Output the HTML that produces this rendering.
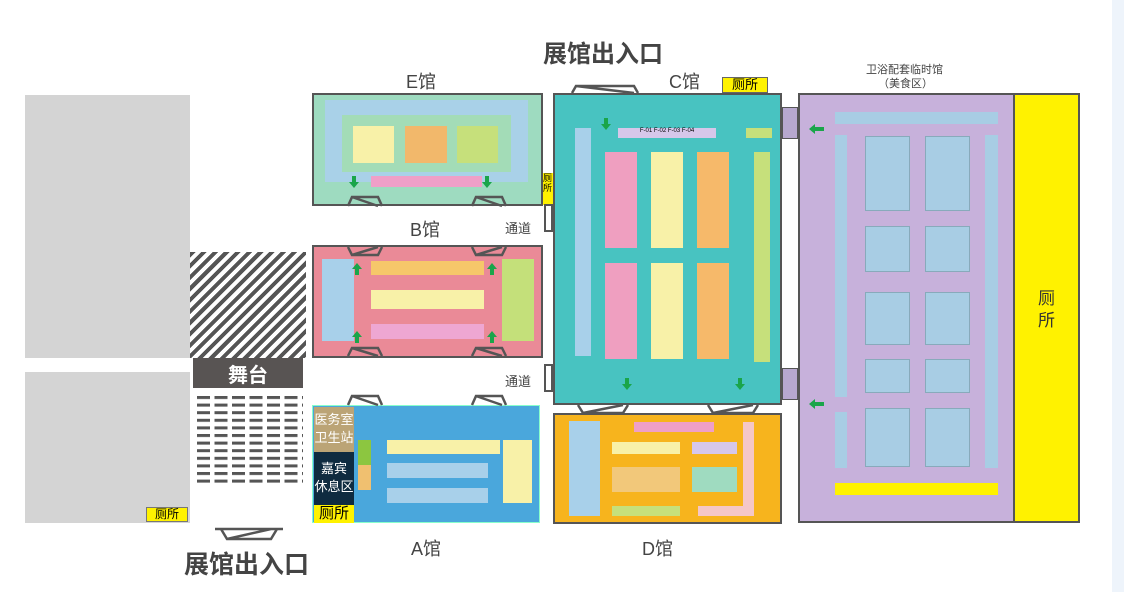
<!DOCTYPE html>
<html><head><meta charset="utf-8"><style>
*{margin:0;padding:0;box-sizing:border-box}
body{width:1124px;height:592px;background:#fff;position:relative;overflow:hidden;font-family:"Liberation Sans","Noto Sans CJK SC",sans-serif}
div,svg{position:absolute}
.b{border:2px solid #555}
.t{color:#444;white-space:nowrap}
</style></head><body>
<div style="left:1112px;top:0;width:12px;height:592px;background:#eef4fb"></div>

<div style="left:25px;top:95px;width:165px;height:263px;background:#d4d4d4"></div>
<div style="left:25px;top:372px;width:165px;height:151px;background:#d4d4d4"></div>
<div style="left:190px;top:252px;width:116px;height:106px;background:repeating-linear-gradient(135deg,#555 0 4px,#fff 4px 8px)"></div>
<div style="left:193px;top:358px;width:110px;height:30px;background:#585453;color:#fff;font-size:20px;font-weight:bold;display:flex;align-items:center;justify-content:center">舞台</div>
<svg style="left:197px;top:396px" width="108" height="92">
<defs><pattern id="d" width="17.5" height="7.6" patternUnits="userSpaceOnUse"><rect width="13" height="3" fill="#555"/></pattern></defs>
<rect width="106" height="91" fill="url(#d)"/></svg>
<div style="left:146px;top:507px;width:42px;height:15px;background:#fff200;border:1px solid #777;font-size:12px;line-height:13px;text-align:center">厕所</div>
<svg style="left:213px;top:526px" width="72" height="16"><path d="M2 3 H70 M8 3 L14 13 H58 L64 3 M14 13 L58 3" stroke="#555" stroke-width="2.5" fill="none"/></svg>
<div class="t" style="left:184px;top:545px;font-size:25px;font-weight:bold">展馆出入口</div>
<div class="t" style="left:543px;top:34px;font-size:24px;font-weight:bold">展馆出入口</div>

<!-- E hall -->
<div class="t" style="left:406px;top:68px;font-size:18px">E馆</div>
<div class="b" style="left:312px;top:93px;width:231px;height:113px;background:#9edbc0"></div>
<div style="left:325px;top:100px;width:203px;height:82px;background:#a9d1e8"></div>
<div style="left:342px;top:115px;width:169px;height:57px;background:#a3dcb7"></div>
<div style="left:353px;top:126px;width:41px;height:37px;background:#f8f1a8"></div>
<div style="left:405px;top:126px;width:42px;height:37px;background:#f2b86b"></div>
<div style="left:457px;top:126px;width:41px;height:37px;background:#c6e07b"></div>
<div style="left:371px;top:176px;width:111px;height:11px;background:#ef9fc8"></div>
<div style="left:543px;top:173px;width:10px;height:32px;background:#fff200;font-size:9px;line-height:10px">厕所</div>

<!-- B hall -->
<div class="t" style="left:410px;top:216px;font-size:18px">B馆</div>
<div class="t" style="left:505px;top:218px;font-size:13px">通道</div>
<div class="t" style="left:505px;top:371px;font-size:13px">通道</div>
<div class="b" style="left:312px;top:245px;width:231px;height:113px;background:#ea8a97"></div>
<div style="left:322px;top:259px;width:32px;height:82px;background:#a8d0ea"></div>
<div style="left:502px;top:259px;width:32px;height:82px;background:#c4e07a"></div>
<div style="left:371px;top:261px;width:113px;height:14px;background:#f6c76a"></div>
<div style="left:371px;top:290px;width:113px;height:19px;background:#f8f1a8"></div>
<div style="left:371px;top:324px;width:113px;height:15px;background:#eea7d2"></div>

<!-- A hall -->
<div style="left:312px;top:405px;width:228px;height:118px;background:#4aa7dc;border:1px solid #8fc"></div>
<div style="left:314px;top:407px;width:40px;height:45px;background:#bba476;color:#fff;font-size:13px;line-height:18px;text-align:center;padding-top:4px;white-space:nowrap;overflow:hidden">医务室<br>卫生站</div>
<div style="left:314px;top:452px;width:40px;height:53px;background:#0f2b40;color:#fff;font-size:13px;line-height:18px;text-align:center;padding-top:8px;white-space:nowrap;overflow:hidden">嘉宾<br>休息区</div>
<div style="left:314px;top:505px;width:40px;height:18px;background:#fff200;font-size:15px;line-height:18px;text-align:center;white-space:nowrap">厕所</div>
<div style="left:358px;top:440px;width:13px;height:25px;background:#8cc640"></div>
<div style="left:358px;top:465px;width:13px;height:25px;background:#f0c070"></div>
<div style="left:387px;top:440px;width:113px;height:14px;background:#f8f1a8"></div>
<div style="left:387px;top:463px;width:101px;height:15px;background:#a8d0ea"></div>
<div style="left:387px;top:488px;width:101px;height:15px;background:#a8d0ea"></div>
<div style="left:503px;top:440px;width:29px;height:63px;background:#f8f1a8"></div>
<div class="t" style="left:411px;top:535px;font-size:18px">A馆</div>

<!-- C hall -->
<div class="t" style="left:669px;top:68px;font-size:18px">C馆</div>
<div style="left:722px;top:77px;width:46px;height:16px;background:#fff200;border:1px solid #666;font-size:13px;line-height:14px;text-align:center">厕所</div>
<div class="b" style="left:553px;top:93px;width:229px;height:312px;background:#48c3c1"></div>
<div style="left:618px;top:128px;width:98px;height:10px;background:#d6c7ea;font-size:6px;text-align:center">F-01 F-02 F-03 F-04</div>
<div style="left:746px;top:128px;width:26px;height:10px;background:#c6e07b"></div>
<div style="left:575px;top:128px;width:16px;height:228px;background:#a8d0ea"></div>
<div style="left:605px;top:152px;width:32px;height:96px;background:#ef9fc0"></div>
<div style="left:605px;top:263px;width:32px;height:96px;background:#ef9fc0"></div>
<div style="left:651px;top:152px;width:32px;height:96px;background:#f8f1a8"></div>
<div style="left:651px;top:263px;width:32px;height:96px;background:#f8f1a8"></div>
<div style="left:697px;top:152px;width:32px;height:96px;background:#f6b96a"></div>
<div style="left:697px;top:263px;width:32px;height:96px;background:#f6b96a"></div>
<div style="left:754px;top:152px;width:16px;height:210px;background:#c6e07b"></div>
<div style="left:782px;top:107px;width:16px;height:32px;background:#b7a8cf;border:1px solid #555"></div>
<div style="left:782px;top:368px;width:16px;height:32px;background:#b7a8cf;border:1px solid #555"></div>
<div style="left:544px;top:364px;width:9px;height:28px;border:2px solid #555;background:#fff"></div>
<div style="left:544px;top:204px;width:9px;height:28px;border:2px solid #555;background:#fff"></div>

<!-- D hall -->
<div class="b" style="left:553px;top:413px;width:229px;height:111px;background:#f7b41d"></div>
<div style="left:569px;top:421px;width:31px;height:95px;background:#a8d0ea"></div>
<div style="left:634px;top:422px;width:80px;height:10px;background:#ef9fc8"></div>
<div style="left:612px;top:442px;width:68px;height:12px;background:#f8f1a8"></div>
<div style="left:612px;top:467px;width:68px;height:25px;background:#f2c87a"></div>
<div style="left:612px;top:506px;width:68px;height:10px;background:#c6e07b"></div>
<div style="left:692px;top:442px;width:45px;height:12px;background:#d6c7ea"></div>
<div style="left:692px;top:467px;width:45px;height:25px;background:#9fdbc0"></div>
<div style="left:743px;top:422px;width:11px;height:94px;background:#f5c7c7"></div>
<div style="left:698px;top:506px;width:50px;height:10px;background:#f5c7c7"></div>
<div class="t" style="left:642px;top:535px;font-size:18px">D馆</div>

<!-- gates & arrows -->
<svg style="left:0;top:0" width="1124" height="592">
<g stroke="#555" stroke-width="2.5" fill="none">
<path d="M348 206 L352 197 H378 L382 206 M352 197 L378 206"/>
<path d="M472 206 L476 197 H502 L506 206 M476 197 L502 206"/>
<path d="M348 247 L352 255 H378 L382 247 M352 255 L378 247"/>
<path d="M472 247 L476 255 H502 L506 247 M476 255 L502 247"/>
<path d="M348 356 L352 348 H378 L382 356 M352 348 L378 356"/>
<path d="M472 356 L476 348 H502 L506 356 M476 348 L502 356"/>
<path d="M348 405 L352 396 H378 L382 405 M352 396 L378 405"/>
<path d="M472 405 L476 396 H502 L506 405 M476 396 L502 405"/>
<path d="M572 93 L576 86 H634 L638 93 M576 86 L634 93"/>
<path d="M578 405 L583 413 H623 L628 405 M583 413 L623 405"/>
<path d="M708 405 L713 413 H753 L758 405 M713 413 L753 405"/>
</g>
<g fill="#1aa54a">
<path d="M604 118 h4 v6 h3 l-5 6 l-5 -6 h3z"/>
<path d="M625 378 h4 v6 h3 l-5 6 l-5 -6 h3z"/>
<path d="M738 378 h4 v6 h3 l-5 6 l-5 -6 h3z"/>
<path d="M352 176 h4 v6 h3 l-5 6 l-5 -6 h3z"/>
<path d="M485 176 h4 v6 h3 l-5 6 l-5 -6 h3z"/>
<path d="M355 275 h4 v-6 h3 l-5 -6 l-5 6 h3z"/>
<path d="M490 275 h4 v-6 h3 l-5 -6 l-5 6 h3z"/>
<path d="M355 343 h4 v-6 h3 l-5 -6 l-5 6 h3z"/>
<path d="M490 343 h4 v-6 h3 l-5 -6 l-5 6 h3z"/>
<path d="M809 129 l6 -5 v3 h9 v4 h-9 v3z"/>
<path d="M809 404 l6 -5 v3 h9 v4 h-9 v3z"/>
</g></svg>

<!-- right hall -->
<div class="t" style="left:866px;top:61px;font-size:11px">卫浴配套临时馆</div>
<div class="t" style="left:878px;top:75px;font-size:11px">（美食区）</div>
<div class="b" style="left:798px;top:93px;width:282px;height:430px;background:#c7b1db"></div>
<div style="left:1013px;top:95px;width:65px;height:426px;background:#fff200;border-left:2px solid #555;font-size:17px;color:#333;line-height:22px;text-align:center;padding-top:193px">厕<br>所</div>
<div style="left:835px;top:112px;width:163px;height:12px;background:#a8cde4"></div>
<div style="left:835px;top:135px;width:12px;height:262px;background:#a8cde4"></div>
<div style="left:835px;top:412px;width:12px;height:56px;background:#a8cde4"></div>
<div style="left:985px;top:135px;width:13px;height:333px;background:#a8cde4"></div>
<div style="left:865px;top:136px;width:45px;height:75px;background:#a8cde4;border:1px solid #8ab"></div>
<div style="left:925px;top:136px;width:45px;height:75px;background:#a8cde4;border:1px solid #8ab"></div>
<div style="left:865px;top:226px;width:45px;height:46px;background:#a8cde4;border:1px solid #8ab"></div>
<div style="left:925px;top:226px;width:45px;height:46px;background:#a8cde4;border:1px solid #8ab"></div>
<div style="left:865px;top:292px;width:45px;height:53px;background:#a8cde4;border:1px solid #8ab"></div>
<div style="left:925px;top:292px;width:45px;height:53px;background:#a8cde4;border:1px solid #8ab"></div>
<div style="left:865px;top:359px;width:45px;height:34px;background:#a8cde4;border:1px solid #8ab"></div>
<div style="left:925px;top:359px;width:45px;height:34px;background:#a8cde4;border:1px solid #8ab"></div>
<div style="left:865px;top:408px;width:45px;height:59px;background:#a8cde4;border:1px solid #8ab"></div>
<div style="left:925px;top:408px;width:45px;height:59px;background:#a8cde4;border:1px solid #8ab"></div>
<div style="left:835px;top:483px;width:163px;height:12px;background:#fff200"></div>
<svg style="left:0;top:0" width="1124" height="592"><g fill="#1aa54a">
<path d="M809 129 l6 -5 v3 h9 v4 h-9 v3z"/>
<path d="M809 404 l6 -5 v3 h9 v4 h-9 v3z"/>
</g></svg>
</body></html>
